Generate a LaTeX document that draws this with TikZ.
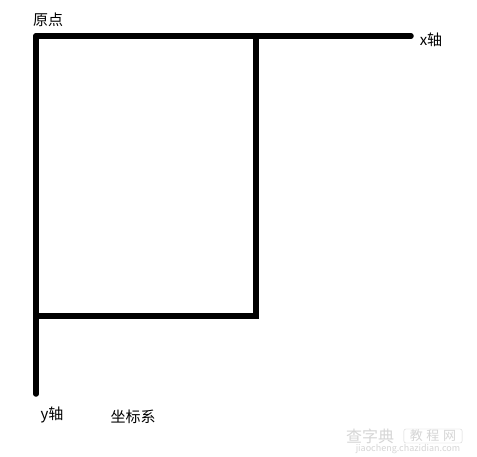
\documentclass[tikz,border=0pt]{standalone}
\usepackage{fontspec}
\newfontfamily\cjk{Noto Sans CJK SC}
\begin{document}
\begin{tikzpicture}[x=1pt,y=-1pt,
  axisline/.style={line width=5.5pt,line cap=round,black},
  lbl/.style={font=\cjk\fontsize{15}{17}\selectfont,inner sep=0pt},
  wm/.style={inner sep=0pt,text=black!16}]
\useasboundingbox[fill=white] (0,0) rectangle (477,456);
\coordinate (O) at (36,36);
\coordinate (X) at (411,36);
\coordinate (Y) at (36,394);
\coordinate (A) at (256,36);
\coordinate (B) at (256,316);
\coordinate (C) at (36,316);
\draw[axisline] (O) -- (X);
\draw[axisline] (O) -- (Y);
\draw[axisline,line cap=butt] (A) -- (B) -- (C);
\node[lbl] (origin) at (48,20) {原点};
\node[lbl] (xlabel) at (431,40) {x轴};
\node[lbl] (ylabel) at (52,415) {y轴};
\node[lbl] (title) at (133,417) {坐标系};
\node[wm,font=\cjk\fontsize{16}{17}\selectfont] (wm1) at (370,436) {查字典};
\node[wm,font=\cjk\fontsize{13}{14}\selectfont,draw=black!16,rounded corners=2pt,inner xsep=6pt,inner ysep=1pt] (wm2) at (433,436) {教\;程\;网};
\node[wm,font=\cjk\fontsize{9}{10}\selectfont] (wm3) at (408,449) {jiaocheng.chazidian.com};
\end{tikzpicture}
\end{document}
